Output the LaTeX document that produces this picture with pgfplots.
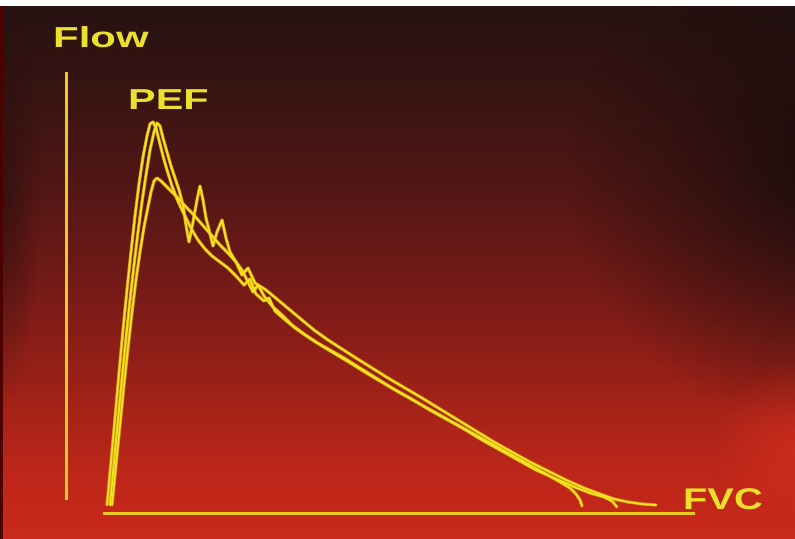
\documentclass[border=0pt]{standalone}
\usepackage{fontspec}
\setmainfont{Liberation Sans}
\usepackage{pgfplots}
\pgfplotsset{compat=1.18}
\usepackage{pgfplotstable}
\usetikzlibrary{fadings}
\definecolor{bgA}{HTML}{261211}
\definecolor{bgB}{HTML}{3A1412}
\definecolor{bgC}{HTML}{551715}
\definecolor{bgD}{HTML}{7A1B17}
\definecolor{bgE}{HTML}{A22218}
\definecolor{bgF}{HTML}{BC2619}
\definecolor{bgG}{HTML}{C8291A}
\definecolor{vign}{HTML}{160C0C}
\definecolor{glow}{HTML}{D4301E}
\definecolor{ylw}{HTML}{F4E420}
\definecolor{ylwedge}{HTML}{D89A1A}
\definecolor{axyl}{HTML}{EDCB1E}
\definecolor{txt}{HTML}{ECE02C}
\tikzfading[name=radfade, inner color=transparent!0, outer color=transparent!100]

\pgfplotstableread{
x y
107 505
111 462
115 418
119 373
123 330
127 290
131 252
135 216
139 184
143 157
147 136
150 124
153 122
156 128
159 140
163 156
167 170
172 186
177 199
182 210
187 220
192 230
198 240
205 249
212 256
220 262
228 268
236 276
244 285
250 279
256 294
264 301
269 298
275 311
283 318
295 328
308 337
322 346
337 355
352 364
368 374
385 384
402 394
420 404
438 414
456 424
474 434
492 444
510 454
528 464
546 474
560 482
570 488
576 494
580 500
582 506
}\curveA

\pgfplotstableread{
x y
110 505
114 462
118 420
122 378
126 338
130 300
134 265
138 232
142 202
146 175
150 150
154 132
157 123
160 126
163 138
167 152
171 166
175 178
179 190
183 205
186 225
189 242
193 222
197 200
200 186
203 200
206 218
209 230
213 246
217 232
222 220
226 238
230 252
236 262
242 270
248 282
253 292
258 285
264 296
272 306
282 315
292 325
304 334
316 342
330 350
344 358
360 368
376 378
392 388
410 398
428 409
446 419
464 429
482 440
500 450
518 460
536 470
554 478
572 486
590 493
604 497
612 501
617 507
}\curveB

\pgfplotstableread{
x y
112 505
116 465
120 425
124 385
128 348
132 312
136 280
140 252
144 227
148 207
151 192
154 181
157 178
161 181
166 186
172 192
178 198
185 206
192 213
199 221
206 229
213 237
220 245
228 253
236 262
242 275
248 268
255 283
266 290
278 300
290 310
302 320
314 330
328 340
342 349
356 358
372 368
388 378
405 388
422 398
440 409
458 420
476 431
494 442
512 452
530 462
548 471
566 480
584 488
600 494
614 499
628 502
642 504
656 505
}\curveC

\begin{document}
\begin{tikzpicture}
\begin{axis}[
  scale only axis, width=795bp, height=539bp,
  xmin=0, xmax=795, ymin=0, ymax=539, y dir=reverse,
  hide axis, clip=true,
  every axis plot/.append style={no markers, line join=round, line cap=round},
]
% background
\fill[top color=bgA, bottom color=bgB] (axis cs:0,6) rectangle (axis cs:795,101);
\fill[top color=bgB, bottom color=bgC] (axis cs:0,100) rectangle (axis cs:795,201);
\fill[top color=bgC, bottom color=bgD] (axis cs:0,200) rectangle (axis cs:795,301);
\fill[top color=bgD, bottom color=bgE] (axis cs:0,300) rectangle (axis cs:795,401);
\fill[top color=bgE, bottom color=bgF] (axis cs:0,400) rectangle (axis cs:795,471);
\fill[top color=bgF, bottom color=bgG] (axis cs:0,470) rectangle (axis cs:795,539);
\fill[vign, path fading=radfade, fit fading=true, opacity=0.9] (axis cs:830,170) circle [radius=260bp];
\fill[vign, path fading=radfade, fit fading=true, opacity=0.5] (axis cs:0,200) ellipse [x radius=40bp, y radius=210bp];
\fill[glow, path fading=radfade, fit fading=true, opacity=0.7] (axis cs:800,450) circle [radius=90bp];
\fill[black!70!red] (axis cs:0,6) rectangle (axis cs:3,539);
\fill[white] (axis cs:0,0) rectangle (axis cs:795,6);
% axes lines
\addplot[color=axyl, line width=3bp, line cap=butt] coordinates {(66,72) (66,500)};
\addplot[color=axyl, line width=3bp, line cap=butt] coordinates {(103,513) (695,513)};
% curves
\addplot[color=ylwedge, line width=3.2bp] table {\curveC};
\addplot[color=ylwedge, line width=3.2bp] table {\curveA};
\addplot[color=ylwedge, line width=3.2bp] table {\curveB};
\addplot[color=ylw, line width=1.7bp] table {\curveC};
\addplot[color=ylw, line width=1.7bp] table {\curveA};
\addplot[color=ylw, line width=1.7bp] table {\curveB};
% labels
\node[anchor=base west, inner sep=0pt, text=txt, font=\fontsize{29}{30}\selectfont\bfseries]
  at (axis cs:53,48) {\scalebox{1.45}[1]{Flow}};
\node[anchor=base west, inner sep=0pt, text=txt, font=\fontsize{29}{30}\selectfont\bfseries]
  at (axis cs:128,109) {\scalebox{1.43}[1]{PEF}};
\node[anchor=base west, inner sep=0pt, text=txt, font=\fontsize{30}{31}\selectfont\bfseries]
  at (axis cs:683,509) {\scalebox{1.33}[1]{FVC}};
\end{axis}
\end{tikzpicture}
\end{document}
